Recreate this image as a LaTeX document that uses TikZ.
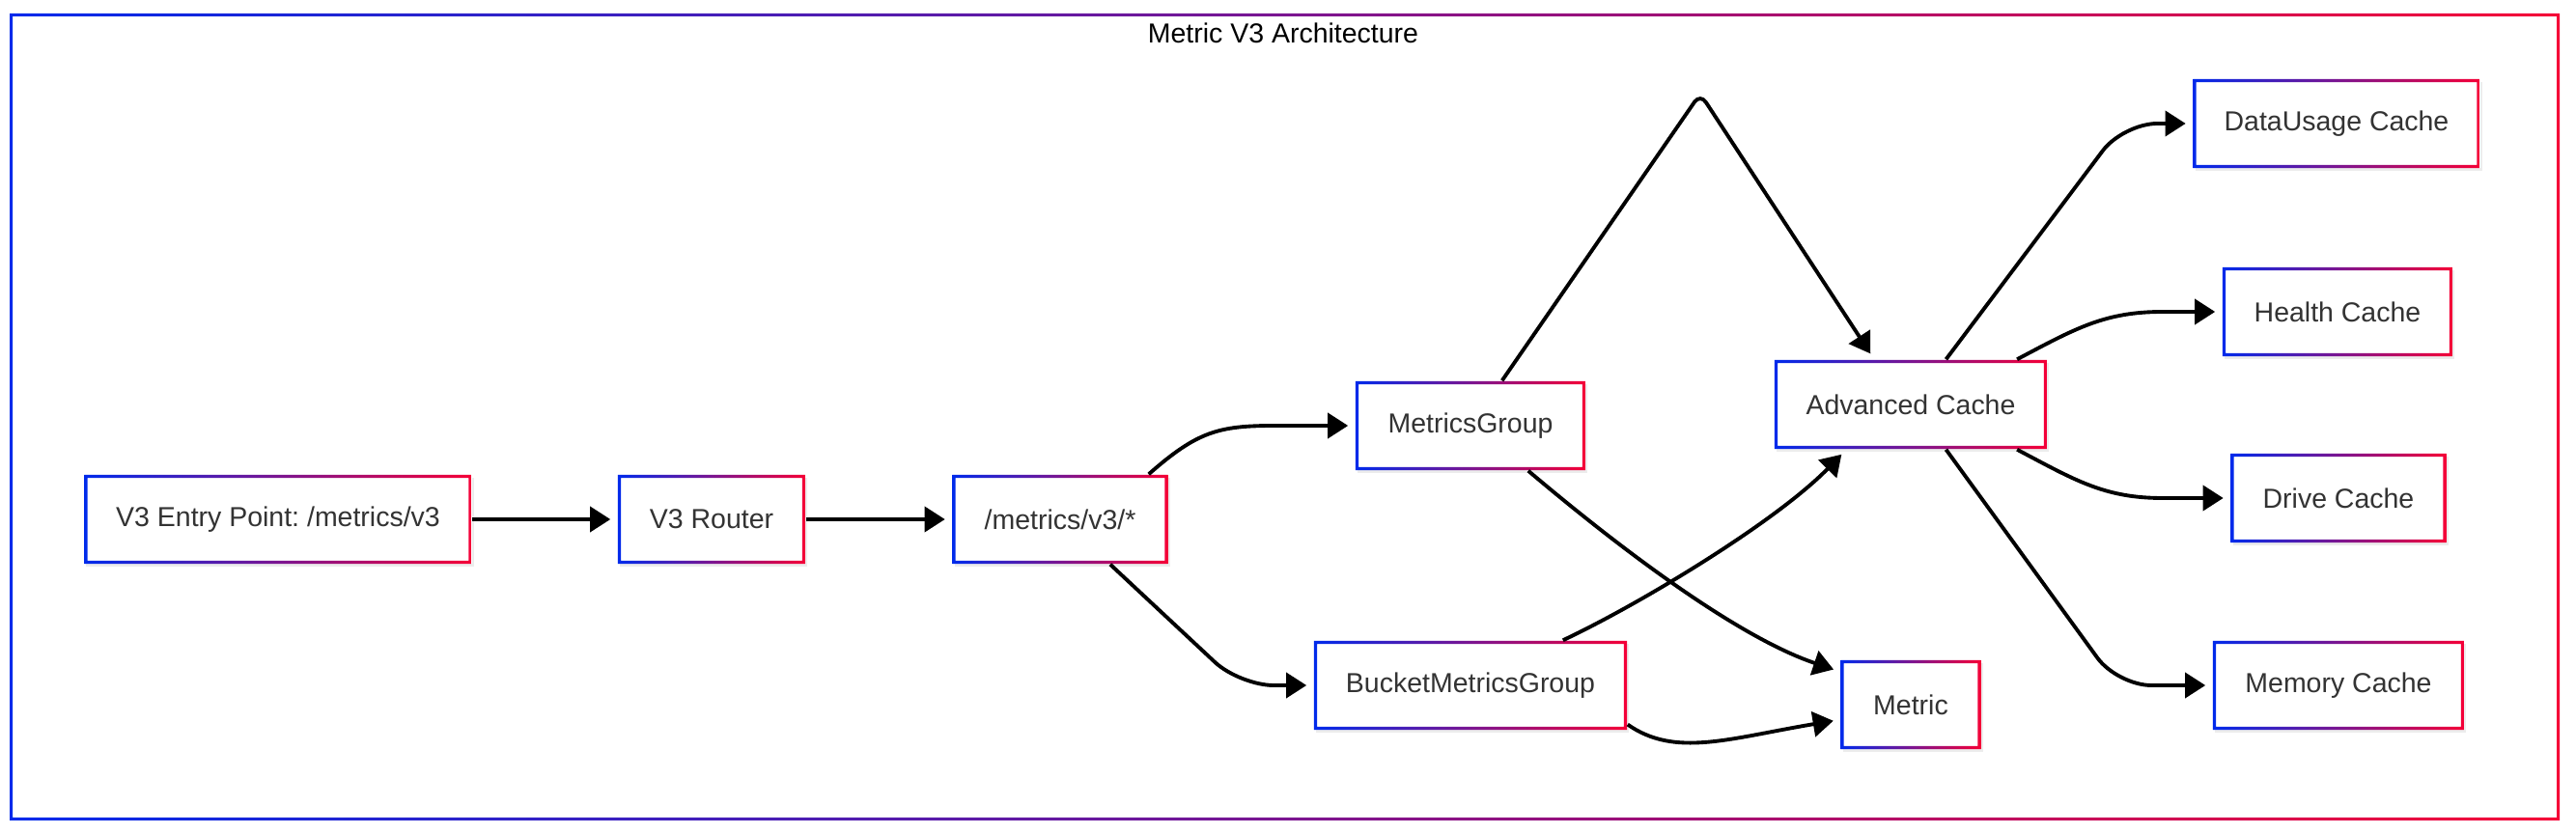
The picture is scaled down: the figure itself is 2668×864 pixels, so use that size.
\documentclass[tikz,border=0pt]{standalone}
\usepackage{fontspec}
\setmainfont{Liberation Sans}
\usepackage{tikz}
\usetikzlibrary{arrows.meta}
\usetikzlibrary{shadows}
\definecolor{mblue}{RGB}{0,42,235}
\definecolor{mred}{RGB}{245,0,55}
\frenchspacing
\tikzset{>=latex}
\tikzstyle{blk} = [rectangle, fill = white, minimum height = .92cm, inner sep = 0, text = black!80, font = \fontsize{8.1}{10}\selectfont, drop shadow = {opacity = .15, shadow xshift = .6pt, shadow yshift = -.8pt}, path picture = {\shade [left color = mblue, right color = mred, even odd rule] (path picture bounding box.south west) rectangle (path picture bounding box.north east) ([shift = {(.9pt, .9pt)}] path picture bounding box.south west) rectangle ([shift = {(-.9pt, -.9pt)}] path picture bounding box.north east);}]
\tikzstyle{flow} = [line width = 1.1pt, shorten > = 2pt, -{Triangle[length = 6pt, width = 7.4pt]}]

\begin{document}
\begin{tikzpicture}[x = .01cm, y = -.01cm]
\useasboundingbox (0, 0) rectangle (2668, 864);
\shade [left color = mblue, right color = mred, even odd rule] (10, 14) rectangle (2651, 850) (13, 17) rectangle (2648, 847);
\node [draw = none, font = \fontsize{8.1}{10}\selectfont] (title) at (1329, 34) {Metric V3 Architecture};
\node [blk, minimum width = 4.01cm] (entry) at (288, 538) {V3 Entry Point: /metrics/v3};
\node [blk, minimum width = 1.94cm] (router) at (737, 538) {V3 Router};
\node [blk, minimum width = 2.23cm] (v3all) at (1098, 538) {/metrics/v3/*};
\node [blk, minimum width = 2.38cm] (mgrp) at (1523, 441) {MetricsGroup};
\node [blk, minimum width = 3.24cm] (bmgrp) at (1523, 710) {BucketMetricsGroup};
\node [blk, minimum width = 2.82cm] (acache) at (1979, 419) {Advanced Cache};
\node [blk, minimum width = 1.45cm] (metric) at (1979, 730) {Metric};
\node [blk, minimum width = 2.97cm] (dusage) at (2420, 128) {DataUsage Cache};
\node [blk, minimum width = 2.38cm] (health) at (2421, 323) {Health Cache};
\node [blk, minimum width = 2.23cm] (drive) at (2422, 516) {Drive Cache};
\node [blk, minimum width = 2.60cm] (memory) at (2422, 710) {Memory Cache};
\draw [flow] (entry) -- (router);
\draw [flow] (router) -- (v3all);
\draw [flow] (v3all.27) .. controls (1240, 447) and (1262, 441) .. (1320, 441) -- (mgrp.west);
\draw [flow, rounded corners = 10pt] (v3all.-42) -- (1284, 710) -- (bmgrp.west);
\draw [flow, rounded corners = 3pt] (mgrp.55) -- (1761, 97) -- (acache.129);
\draw [flow] (mgrp.-38) .. controls (1680, 570) and (1800, 660) .. (metric.155);
\draw [flow] (bmgrp.26) .. controls (1700, 625) and (1840, 540) .. (acache.215);
\draw [flow] (bmgrp.-14) .. controls (1735, 785) and (1790, 765) .. (metric.192);
\draw [flow, rounded corners = 10pt] (acache.52) -- (2199, 128) -- (dusage.west);
\draw [flow] (acache.23) .. controls (2150, 340) and (2180, 323) .. (2240, 323) -- (health.west);
\draw [flow] (acache.-23) .. controls (2150, 498) and (2180, 516) .. (2240, 516) -- (drive.west);
\draw [flow, rounded corners = 10pt] (acache.-52) -- (2193, 710) -- (memory.west);
\end{tikzpicture}
\end{document}
